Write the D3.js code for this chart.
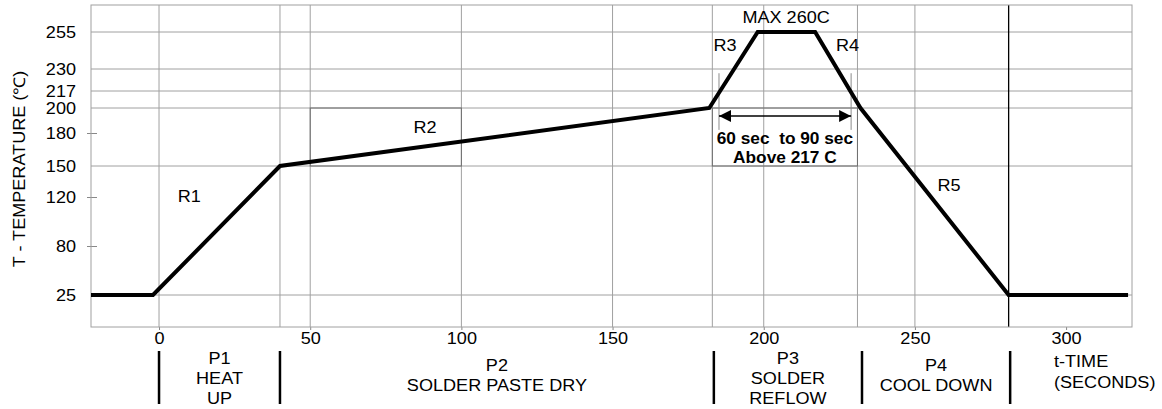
<!DOCTYPE html>
<html>
<head>
<meta charset="utf-8">
<script src="https://cdn.jsdelivr.net/npm/d3@7"></script>
<style>
body { margin: 0; background: #fff; }
text { font-family: "Liberation Sans", Arial, sans-serif; fill: #000; white-space: pre; }
</style>
</head>
<body>
<svg id="canvas" width="1162" height="409"></svg>
<script>
// reflow profile (time in s, temperature in C)
let profileTime = [-22.5, -2, 40, 182, 198, 217, 232, 281, 320.5]
let profileTemp = [25, 25, 150, 200, 255, 255, 200, 25, 25]

let tempTicks = [25, 80, 120, 150, 180, 200, 217, 230, 255]
let tempGrid = [25, 150, 200, 217, 230, 255]
let timeTicks = [0, 50, 100, 150, 200, 250, 300]
let timeGrid = [0, 40, 50, 100, 150, 183, 200, 231, 250]

let phaseBounds = [0, 40, 183.5, 232.5, 281.5]
let phaseNames = [['P1', 'HEAT', 'UP'], ['P2', 'SOLDER PASTE DRY'], ['P3', 'SOLDER', 'REFLOW'], ['P4', 'COOL DOWN']]
let rampNames = ['R1', 'R2', 'R3', 'R4', 'R5']

let canvas = d3.select('#canvas')
let SX = 1.13
let FS = 16

let plotLeft = 91, plotRight = 1132, plotTop = 5, plotBottom = 327

let x = d3.scaleLinear().domain([-22.5, 321.8]).range([plotLeft, plotRight])
// the temperature axis of the original is not linear, so use a piecewise scale
let y = d3.scaleLinear().domain(tempTicks).range([295, 246, 197, 166, 133, 108, 91, 69, 32])

let label = (g, px, py, s, size, anchor, weight, sx) => {
    return g.append('text')
        .attr('transform', 'translate(' + px + ',' + py + ') scale(' + (sx || SX) + ',1)')
        .attr('text-anchor', anchor || 'middle')
        .style('font-size', size + 'px')
        .style('font-weight', weight || 'normal')
        .text(s)
}

// grid
canvas.append('g').selectAll('line')
    .data(tempGrid)
    .enter()
    .append('line')
    .attr('x1', plotLeft).attr('x2', plotRight)
    .attr('y1', (d) => y(d)).attr('y2', (d) => y(d))
    .attr('stroke', '#a0a0a0').attr('stroke-width', 1)

canvas.append('g').selectAll('line')
    .data(timeGrid)
    .enter()
    .append('line')
    .attr('x1', (d) => x(d)).attr('x2', (d) => x(d))
    .attr('y1', plotTop).attr('y2', plotBottom)
    .attr('stroke', '#a0a0a0').attr('stroke-width', 1)

// boxes for R2 and the reflow window
let boxes = [[50, 100], [183, 231]]
canvas.append('g').selectAll('rect')
    .data(boxes)
    .enter()
    .append('rect')
    .attr('x', (d) => x(d[0]))
    .attr('width', (d) => x(d[1]) - x(d[0]))
    .attr('y', y(200))
    .attr('height', y(150) - y(200))
    .attr('fill', 'none')
    .attr('stroke', '#6e6e6e')

// end of profile marker
canvas.append('line')
    .attr('x1', x(281)).attr('x2', x(281))
    .attr('y1', plotTop).attr('y2', plotBottom)
    .attr('stroke', '#000').attr('stroke-width', 1.3)

// axes
let yAxis = canvas.append('g')
    .attr('transform', 'translate(' + plotLeft + ',0)')
    .call(d3.axisLeft(y).tickValues(tempTicks).tickSize(4).tickPadding(11).tickFormat(d3.format('d')))
yAxis.select('.domain').remove()
yAxis.selectAll('line').attr('stroke', '#888').attr('x2', (d) => (tempGrid.includes(d) ? -4 : 6)).attr('x1', -4)
yAxis.selectAll('text')
    .attr('x', null).attr('dy', null)
    .attr('transform', 'translate(-15,5) scale(' + SX + ',1)')
    .style('font-size', FS + 'px')
    .style('font-family', '"Liberation Sans", Arial, sans-serif')

let xAxis = canvas.append('g')
    .attr('transform', 'translate(0,' + plotBottom + ')')
    .call(d3.axisBottom(x).tickValues(timeTicks).tickSize(3).tickPadding(2))
xAxis.select('.domain').remove()
xAxis.selectAll('line').attr('stroke', '#888')
xAxis.selectAll('text')
    .attr('y', null).attr('dy', null)
    .attr('transform', 'translate(0,16.5) scale(' + SX + ',1)')
    .style('font-size', FS + 'px')
    .style('font-family', '"Liberation Sans", Arial, sans-serif')

// plot border
canvas.append('rect')
    .attr('x', plotLeft).attr('y', plotTop)
    .attr('width', plotRight - plotLeft).attr('height', plotBottom - plotTop)
    .attr('fill', 'none').attr('stroke', '#a0a0a0')

// dimension lines for the 217 C window
let winStart = 185.2, winEnd = 228.9
canvas.append('g').selectAll('line')
    .data([winStart, winEnd])
    .enter()
    .append('line')
    .attr('x1', (d) => x(d)).attr('x2', (d) => x(d))
    .attr('y1', y(227.5)).attr('y2', y(182.5))
    .attr('stroke', '#8a8a8a')

// profile line
let profile = profileTime.map((t, i) => [t, profileTemp[i]])
canvas.append('path')
    .datum(profile)
    .attr('d', d3.line().x((d) => x(d[0])).y((d) => y(d[1])))
    .attr('fill', 'none')
    .attr('stroke', '#000')
    .attr('stroke-width', 4)
    .attr('stroke-linejoin', 'miter')

// arrow
let defs = canvas.append('defs')
defs.append('marker')
    .attr('id', 'head')
    .attr('viewBox', '0 0 12 12')
    .attr('refX', 12).attr('refY', 6)
    .attr('markerWidth', 12).attr('markerHeight', 12)
    .attr('markerUnits', 'userSpaceOnUse')
    .attr('orient', 'auto-start-reverse')
    .append('path')
    .attr('d', 'M0,0 L12,6 L0,12 Z')
    .attr('fill', '#000')

canvas.append('line')
    .attr('x1', x(winStart)).attr('x2', x(winEnd))
    .attr('y1', y(193.6)).attr('y2', y(193.6))
    .attr('stroke', '#000').attr('stroke-width', 1.5)
    .attr('marker-start', 'url(#head)')
    .attr('marker-end', 'url(#head)')

// ramp labels
let rampTime = [10, 88, 187.2, 227.7, 261.3]
let rampTemp = [116, 180, 242, 242, 126]
rampNames.forEach((r, i) => {
    label(canvas, x(rampTime[i]), y(rampTemp[i]), r, FS)
})

label(canvas, x(207.4), y(261), 'MAX 260C', FS)
label(canvas, x(207), y(170), '60 sec  to 90 sec', 16, 'middle', 'bold', 1.08)
label(canvas, x(207), y(152.7), 'Above 217 C', 16, 'middle', 'bold', 1.08)

// axis title
canvas.append('text')
    .attr('transform', 'translate(25,169) rotate(-90) scale(' + SX + ',1)')
    .attr('text-anchor', 'middle')
    .style('font-size', FS + 'px')
    .text('T - TEMPERATURE (\u2103)')

// phases under the time axis
canvas.append('g').selectAll('line')
    .data(phaseBounds)
    .enter()
    .append('line')
    .attr('x1', (d) => x(d)).attr('x2', (d) => x(d))
    .attr('y1', 351).attr('y2', 404)
    .attr('stroke', '#000').attr('stroke-width', 2.5)

phaseNames.forEach((lines, i) => {
    let cx = x((phaseBounds[i] + phaseBounds[i + 1]) / 2)
    let start = lines.length === 3 ? 364 : 371
    lines.forEach((s, j) => {
        label(canvas, cx, start + j * 20, s, FS)
    })
})

label(canvas, 1054, 367, 't-TIME', FS, 'start')
label(canvas, 1054, 388, '(SECONDS)', FS, 'start')
</script>
</body>
</html>
